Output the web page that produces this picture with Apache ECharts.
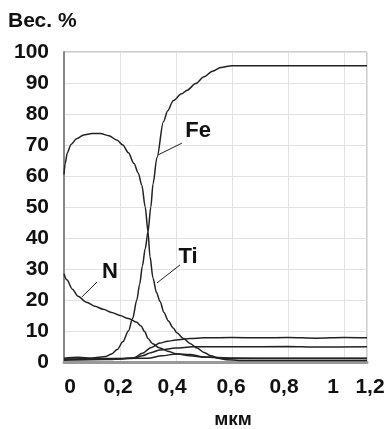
<!DOCTYPE html>
<html>
<head>
<meta charset="utf-8">
<script src="https://cdn.jsdelivr.net/npm/echarts@6/dist/echarts.min.js"></script>
<style>
  html, body { margin: 0; padding: 0; background: #fff; }
  #chart { width: 390px; height: 429px; }
</style>
</head>
<body>
<div id="chart"></div>
<script>
// depth (мкм) vs content (вес. %)
const depthMax = 1.082;   // right edge of the frame; the last label reads "1,2"
const feData = [[0,1.2],[0.05,1.5],[0.1,1.3],[0.15,1.8],[0.17,2.6],[0.19,4],[0.21,6.5],[0.23,10],[0.245,14],[0.26,20],[0.27,25],[0.28,31],[0.29,36.5],[0.3,42],[0.31,50],[0.318,57.5],[0.332,66],[0.355,77.5],[0.37,81],[0.39,84.3],[0.42,86.5],[0.44,87.7],[0.47,89.8],[0.5,92],[0.53,93.8],[0.56,95],[0.6,95.6],[0.8,95.6],[depthMax,95.6]];
const tiData = [[0,60.5],[0.004,64],[0.012,67.5],[0.025,70.2],[0.045,72],[0.07,73.2],[0.1,73.7],[0.13,73.7],[0.16,73],[0.19,71.5],[0.21,70],[0.23,67.5],[0.25,64],[0.265,61],[0.278,57],[0.29,50],[0.3,42],[0.307,34],[0.318,27],[0.33,22.5],[0.343,19.5],[0.357,16],[0.372,13.3],[0.39,11],[0.403,9.4],[0.425,7.7],[0.45,6],[0.475,4.5],[0.5,3.1],[0.525,2],[0.55,1.2],[0.58,0.7],[0.65,0.5],[depthMax,0.5]];
const nData = [[0,28.5],[0.01,26.5],[0.03,23.5],[0.05,21.2],[0.08,19.3],[0.11,18],[0.14,17],[0.17,16],[0.2,15],[0.23,14],[0.26,12.8],[0.275,11.6],[0.288,9.8],[0.3,7.6],[0.315,6],[0.34,4.6],[0.37,3.5],[0.4,2.7],[0.45,2],[0.5,1.6],[0.6,1.3],[0.8,1.2],[depthMax,1.2]];
const lineA = [[0,0.8],[0.1,0.9],[0.2,1],[0.25,1.4],[0.28,2.8],[0.31,4.6],[0.343,6.1],[0.37,6.7],[0.4,7.1],[0.45,7.6],[0.5,7.8],[0.6,7.9],[0.7,7.8],[0.8,7.9],[0.9,7.7],[1.0,7.9],[depthMax,7.8]];
const lineB = [[0,0.6],[0.15,0.8],[0.25,1.2],[0.28,2],[0.31,3],[0.343,3.9],[0.4,4.5],[0.46,4.9],[0.6,4.9],[0.8,5],[0.9,4.8],[depthMax,4.9]];
const lineC = [[0,1],[0.3,1.2],[0.35,2],[0.4,2.6],[0.45,2.4],[0.5,1.6],[0.6,1.1],[depthMax,1.1]];

// tick labels as printed under the axis (they sit a little off the grid lines)
const depthLabels = ['0', '0,2', '0,4', '0,6', '0,8', '1', '1,2'];

// curve names and their leader lines [label point, line start, line end]
const feLabel = [0.479, 74.5], feLeader = [[0.336, 66.8], [0.421, 70.6]];
const nLabel = [0.164, 29], nLeader = [[0.064, 21], [0.118, 25.8]];
const tiLabel = [0.443, 33.9], tiLeader = [[0.332, 25.5], [0.414, 31.3]];

const FONT = '"Liberation Sans", Arial, sans-serif';

function curve(data, name, labelPos, leader){
    let s = {
        type: 'line',
        name: name,
        data: data,
        showSymbol: false,
        smooth: 0.3,
        smoothMonotone: 'x',
        lineStyle: { color: '#222', width: 1.5 },
        silent: true
    };
    if(labelPos){
        s.markLine = {
            symbol: ['none', 'none'],
            silent: true,
            label: { show: false },
            lineStyle: { color: '#222', width: 1, type: 'solid' },
            data: [[{ coord: leader[0] }, { coord: leader[1] }]]
        };
        s.markPoint = {
            symbol: 'circle',
            symbolSize: 1,
            itemStyle: { color: 'rgba(0,0,0,0)' },
            label: {
                show: true, position: 'inside', formatter: name,
                fontFamily: FONT, fontSize: 22, fontWeight: 'bold', color: '#111'
            },
            data: [{ coord: labelPos }]
        };
    }
    return s;
}

let labelStyle = { fontFamily: FONT, fontSize: 21, fontWeight: 'bold', color: '#111' };

let chart = echarts.init(document.getElementById('chart'));
let option = {
    animation: false,
    backgroundColor: '#fff',
    title: {
        text: 'Вес. %',
        left: 8, top: 11, padding: 0,
        textStyle: { fontFamily: FONT, fontSize: 21, fontWeight: 'bold', color: '#111' }
    },
    grid: {
        left: 64, right: 23, top: 52, bottom: 67,
        show: true, borderColor: '#999', borderWidth: 1
    },
    xAxis: {
        type: 'value',
        min: 0, max: depthMax, interval: 0.2,
        axisLine: { lineStyle: { color: '#999', width: 3 } },
        axisTick: { show: false },
        splitLine: { lineStyle: { color: '#e2e2e2' } },
        axisLabel: {
            margin: 15,
            fontFamily: FONT, fontSize: 21, fontWeight: 'bold', color: '#111',
            formatter: function(v){
                let i = v > 1.05 ? 6 : Math.round(v / 0.2);
                return '{s' + i + '|' + depthLabels[i] + '}';
            },
            rich: {
                s0: Object.assign({ padding: [0, 0, 0, 12] }, labelStyle),
                s1: Object.assign({ padding: [0, 4, 0, 0] }, labelStyle),
                s2: Object.assign({ padding: [0, 8, 0, 0] }, labelStyle),
                s3: Object.assign({ padding: [0, 2, 0, 0] }, labelStyle),
                s4: Object.assign({ padding: [0, 8, 0, 0] }, labelStyle),
                s5: Object.assign({ padding: [0, 22, 0, 0] }, labelStyle),
                s6: Object.assign({ padding: [0, 0, 0, 6] }, labelStyle)
            }
        }
    },
    yAxis: {
        type: 'value',
        min: 0, max: 100, interval: 10,
        axisLine: { show: true, lineStyle: { color: '#888', width: 2 } },
        axisTick: { show: false },
        splitLine: { lineStyle: { color: '#e2e2e2' } },
        axisLabel: Object.assign({ margin: 15 }, labelStyle)
    },
    graphic: [{
        type: 'text',
        x: 233, y: 420,
        style: {
            text: 'мкм', fontFamily: FONT, fontSize: 19, fontWeight: 'bold',
            fill: '#111', textAlign: 'center', textVerticalAlign: 'middle'
        }
    }],
    series: [
        curve(lineC, 'c'),
        curve(lineB, 'b'),
        curve(lineA, 'a'),
        curve(nData, 'N', nLabel, nLeader),
        curve(tiData, 'Ti', tiLabel, tiLeader),
        curve(feData, 'Fe', feLabel, feLeader)
    ]
};
chart.setOption(option);
</script>
</body>
</html>
